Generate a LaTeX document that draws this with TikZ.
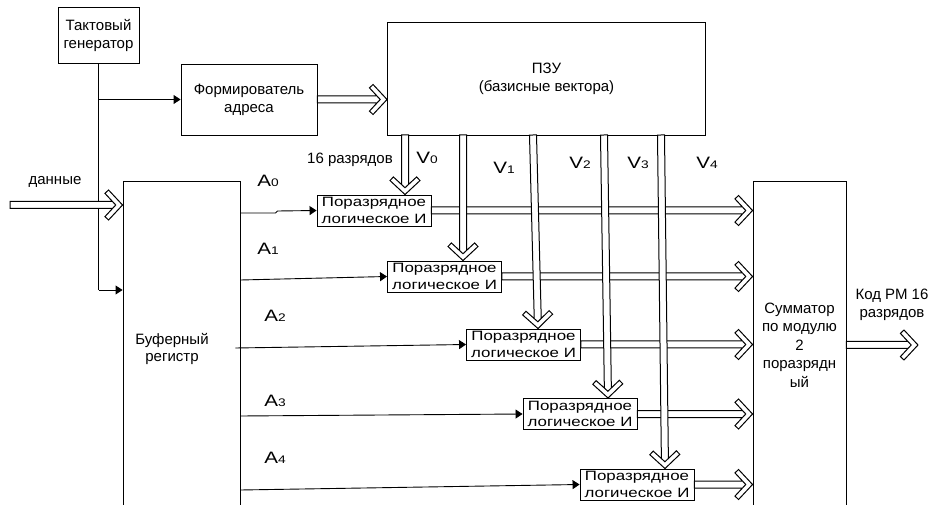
\documentclass[tikz,border=0pt]{standalone}
\usepackage{fontspec}
\setmainfont{Liberation Sans}
\newfontfamily\widesans[FakeStretch=1.25]{Liberation Sans}
\usetikzlibrary{calc, arrows.meta}

\tikzset{
  blk/.style={draw, line width=0.9pt, align=center, inner sep=1pt,
    font=\fontsize{15}{18}\selectfont},
  andblk/.style={draw, line width=0.9pt, align=center, inner sep=0pt,
    minimum width=114pt, minimum height=31pt, font=\widesans\fontsize{13.5}{16.5}\selectfont},
  lbl/.style={inner sep=0pt, align=center, font=\fontsize{15}{17.5}\selectfont},
  idx/.style={inner sep=0pt, font=\widesans\fontsize{16.5}{19}\selectfont},
  sig/.style={line width=0.9pt, -{Triangle[length=7pt,width=9pt]}},
  % wide bus: two parallel lines and an open chevron head
  bus/.style={line width=1pt, fill=white, to path={
    ($(\tikztotarget)!10pt!(\tikztostart)!3.5pt!-90:(\tikztostart)$) -- ($(\tikztostart)!3.5pt!90:(\tikztotarget)$)
      -- ($(\tikztostart)!3.5pt!-90:(\tikztotarget)$) -- ($(\tikztotarget)!10pt!(\tikztostart)!3.5pt!90:(\tikztostart)$)
    (\tikztotarget) -- ($(\tikztotarget)!14pt!(\tikztostart)!15pt!90:(\tikztostart)$)
      -- ($(\tikztotarget)!17.6pt!(\tikztostart)!11.6pt!90:(\tikztostart)$)
      -- ($(\tikztotarget)!6.8pt!(\tikztostart)$)
      -- ($(\tikztotarget)!17.6pt!(\tikztostart)!11.6pt!-90:(\tikztostart)$)
      -- ($(\tikztotarget)!14pt!(\tikztostart)!15pt!-90:(\tikztostart)$) -- cycle}},
}
\newcommand{\ix}[2]{#1{\fontsize{11}{13}\selectfont #2}}

\begin{document}
\begin{tikzpicture}[x=1pt, y=-1pt]
  \useasboundingbox (0,0) rectangle (930,505);
  \clip (0,0) rectangle (930,505);

  % 1. Blocks
  \node[blk, minimum width=81pt, minimum height=56pt] (gen) at (98.5,35) {Тактовый\\генератор};
  \node[blk, minimum width=136pt, minimum height=71pt] (form) at (249,99.5) {Формирователь\\адреса};
  \node[blk, minimum width=318pt, minimum height=113pt] (rom) at (546.5,78.5) {ПЗУ\\(базисные вектора)};
  \node[blk, minimum width=117pt, minimum height=339pt] (buf) at (181.5,350.5) {};
  \node[lbl] (lbuf) at (172,349) {Буферный\\регистр};
  \node[blk, minimum width=93pt, minimum height=328pt, font=\fontsize{15}{18.5}\selectfont] (sum) at (799.5,345)
    {Сумматор\\по модулю\\2\\ поразрядн\\ый};

  % 2. Bitwise AND blocks
  \node[andblk] (and0) at (374,210.5) {Поразрядное\\логическое И};
  \node[andblk] (and1) at (444.5,276.5) {Поразрядное\\логическое И};
  \node[andblk] (and2) at (523.5,344.5) {Поразрядное\\логическое И};
  \node[andblk] (and3) at (580,414) {Поразрядное\\логическое И};
  \node[andblk] (and4) at (637,484.5) {Поразрядное\\логическое И};

  % 3. Labels
  \node[lbl] (ldata) at (55,182) {данные};
  \node[lbl] (lbits) at (350,160) {16 разрядов};
  \node[lbl] (lcode) at (892,305) {Код РМ 16\\разрядов};
  \node[idx] (la0) at (268,181) {\ix{A}{0}};
  \node[idx] (la1) at (268,249) {\ix{A}{1}};
  \node[idx] (la2) at (275,316) {\ix{A}{2}};
  \node[idx] (la3) at (275,401) {\ix{A}{3}};
  \node[idx] (la4) at (275,458) {\ix{A}{4}};
  \node[idx] (lv0) at (427,158) {\ix{V}{0}};
  \node[idx] (lv1) at (504,168) {\ix{V}{1}};
  \node[idx] (lv2) at (580,163) {\ix{V}{2}};
  \node[idx] (lv3) at (638,163) {\ix{V}{3}};
  \node[idx] (lv4) at (707,163) {\ix{V}{4}};

  % 4. Clock lines
  \coordinate (clk) at (gen.south |- 0,290);
  \draw[line width=0.9pt] (gen.south) -- (clk);
  \draw[sig] (clk) -- (clk -| buf.west);
  \draw[sig] (gen.south |- form.west) -- (form.west);

  % 5. Buffer outputs A0..A4
  \draw[sig] (buf.east |- 0,213) -- ++(35,0) -- ++(2,-2) -- (and0.west);
  \draw[sig] (buf.east |- 0,280) -- (and1.west);
  \draw[sig] ([xshift=-5pt]buf.east |- 0,348) -- (and2.west);
  \draw[sig] (buf.east |- 0,416) -- (and3.west);
  \draw[sig] (buf.east |- 0,490) -- (and4.west);

  % 6. Buses
  \coordinate (datain) at (10,205);
  \coordinate (codeout) at (918,345);
  \draw[bus] (datain) to (datain -| buf.west);
  \draw[bus] (form.east) to (form.east -| rom.west);
  \foreach \i in {0,...,4}
    \draw[bus] (and\i.east) to (and\i.east -| sum.west);
  \draw[bus] (sum.east) to (codeout);

  % vectors from ROM
  \coordinate (v0) at (405,135);
  \coordinate (v1) at (463,135);
  \coordinate (v2) at (533,135);
  \coordinate (v3) at (604,135);
  \coordinate (v4) at (661,135);
  \draw[bus] (v0) to (v0 |- and0.north);
  \draw[bus] (v1) to (v1 |- and1.north);
  \draw[bus] (v2) to ([xshift=5pt]v2 |- and2.north);
  \draw[bus] (v3) to ([xshift=4pt]v3 |- and3.north);
  \draw[bus] (v4) to ([xshift=4pt]v4 |- and4.north);
\end{tikzpicture}
\end{document}
